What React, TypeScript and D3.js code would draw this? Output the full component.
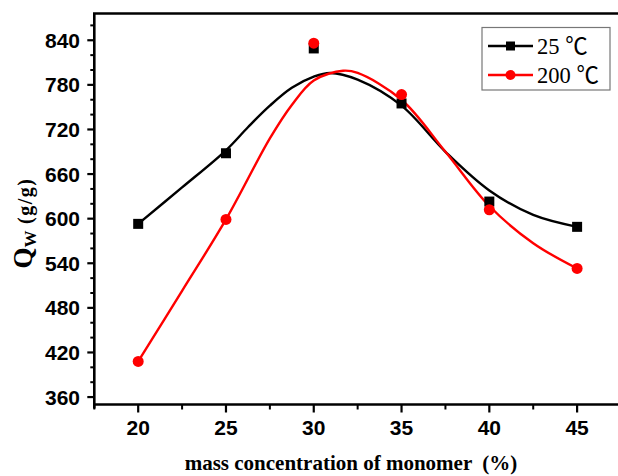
import React from "react";
import * as d3 from "d3";

const xCategories = [20, 25, 30, 35, 40, 45];
const series25 = [593, 688, 829, 755, 623, 589];
const series200 = [408, 599, 836, 767, 612, 533];

// fitted curves
const curve25X = [20, 22.5, 25, 26.25, 27.5, 28.75, 30, 30.93, 32.5, 35, 37.5, 40, 42.5, 45];
const curve25Y = [593, 642, 692, 723, 752, 776, 791, 796, 787, 752, 690, 638, 605, 589];
const curve200X = [20, 22.5, 25, 27.5, 28.75, 30, 31.67, 32.5, 35, 37.5, 40, 42.5, 45];
const curve200Y = [408, 503, 599, 708, 753, 786, 799, 796, 760, 690, 617, 567, 533];

const yTicks = [360, 420, 480, 540, 600, 660, 720, 780, 840];
const xTicks = [20, 25, 30, 35, 40, 45];
const legendLabels = ["25 \u2103", "200 \u2103"];

const W = 618;
const H = 476;

export default function App() {
  const x = d3.scaleLinear().domain([17.5, 47.5]).range([94.3, 621]);
  const y = d3.scaleLinear().domain([350, 876]).range([404.5, 13.5]);

  const line = d3
    .line<[number, number]>()
    .x((d) => x(d[0]))
    .y((d) => y(d[1]))
    .curve(d3.curveCatmullRom.alpha(0.5));

  const c25 = curve25X.map((v, i) => [v, curve25Y[i]] as [number, number]);
  const c200 = curve200X.map((v, i) => [v, curve200Y[i]] as [number, number]);

  const yMinor = d3.range(360, 876, 20).filter((v) => v % 60 !== 0);
  const xMinor = d3.range(17.5, 47.6, 5);

  const left = x.range()[0];
  const right = x.range()[1];
  const top = y.range()[1];
  const bottom = y.range()[0];

  const sansBold = "'Liberation Sans', Arial, sans-serif";
  const serif = "'Liberation Serif', 'Times New Roman', 'Noto Sans CJK SC', serif";

  return (
    <svg
      width={W}
      height={H}
      style={{ position: "absolute", left: 0, top: 0, background: "#fff" }}
    >
      <rect x={0} y={0} width={W} height={H} fill="#fff" />
      {/* curves */}
      <path d={line(c25) || ""} fill="none" stroke="#000" strokeWidth={2.4} />
      <path d={line(c200) || ""} fill="none" stroke="#f00" strokeWidth={2.4} />
      {/* markers */}
      {xCategories.map((v, i) => (
        <rect
          key={"s" + i}
          x={x(v) - 5}
          y={y(series25[i]) - 5}
          width={10}
          height={10}
          fill="#000"
        />
      ))}
      {xCategories.map((v, i) => (
        <circle key={"c" + i} cx={x(v)} cy={y(series200[i])} r={5.5} fill="#f00" />
      ))}

      {/* frame */}
      <line x1={left} x2={left} y1={top} y2={bottom + 4} stroke="#000" strokeWidth={2.6} />
      <line x1={left - 1.3} x2={right} y1={top} y2={top} stroke="#000" strokeWidth={2.6} />
      <line x1={left - 1.3} x2={right} y1={bottom} y2={bottom} stroke="#000" strokeWidth={2.6} />

      {/* y ticks */}
      {yTicks.map((t) => (
        <g key={"yt" + t}>
          <line x1={left - 7} x2={left} y1={y(t)} y2={y(t)} stroke="#000" strokeWidth={2.2} />
          <text
            x={80}
            y={y(t)}
            dy="0.36em"
            textAnchor="end"
            fontFamily={sansBold}
            fontWeight="bold"
            fontSize={21}
            fill="#000"
          >
            {t}
          </text>
        </g>
      ))}
      {yMinor.map((t) => (
        <line key={"ym" + t} x1={left - 4} x2={left} y1={y(t)} y2={y(t)} stroke="#000" strokeWidth={2} />
      ))}

      {/* x ticks */}
      {xTicks.map((t) => (
        <g key={"xt" + t}>
          <line x1={x(t)} x2={x(t)} y1={bottom} y2={bottom + 8} stroke="#000" strokeWidth={2.2} />
          <text
            x={x(t)}
            y={435}
            textAnchor="middle"
            fontFamily={sansBold}
            fontWeight="bold"
            fontSize={21}
            fill="#000"
          >
            {t}
          </text>
        </g>
      ))}
      {xMinor.map((t) => (
        <line key={"xm" + t} x1={x(t)} x2={x(t)} y1={bottom} y2={bottom + 5} stroke="#000" strokeWidth={2} />
      ))}

      {/* x title */}
      <text
        x={351}
        y={470}
        textAnchor="middle"
        fontFamily={serif}
        fontWeight="bold"
        fontSize={21}
        fill="#000"
        style={{ whiteSpace: "pre" }}
      >
        {"mass concentration of monomer  (%)"}
      </text>

      {/* y title */}
      <text
        transform={`translate(32,223) rotate(-90)`}
        textAnchor="middle"
        fontFamily={serif}
        fill="#000"
      >
        <tspan fontSize={27} fontWeight="bold">Q</tspan>
        <tspan fontSize={17} fontWeight="bold" dy={4}>W</tspan>
        <tspan fontSize={20} dy={-4} fontWeight="bold" letterSpacing={1.5}>{" (g/g)"}</tspan>
      </text>

      {/* legend */}
      <rect x={482} y={27.5} width={128} height={62.5} fill="#fff" stroke="#777" strokeWidth={1.2} />
      {legendLabels.map((lab, i) => {
        const ly = 46 + i * 29;
        return (
          <g key={"lg" + i}>
            <line
              x1={488}
              x2={533}
              y1={ly}
              y2={ly}
              stroke={i === 0 ? "#000" : "#f00"}
              strokeWidth={2.4}
            />
            {i === 0 ? (
              <rect x={506} y={ly - 4.5} width={9} height={9} fill="#000" />
            ) : (
              <circle cx={510.5} cy={ly} r={5} fill="#f00" />
            )}
            <text
              x={537}
              y={ly}
              dy="0.35em"
              fontFamily={serif}
              fontSize={22.5}
              fill="#000"
            >
              {lab}
            </text>
          </g>
        );
      })}
    </svg>
  );
}
